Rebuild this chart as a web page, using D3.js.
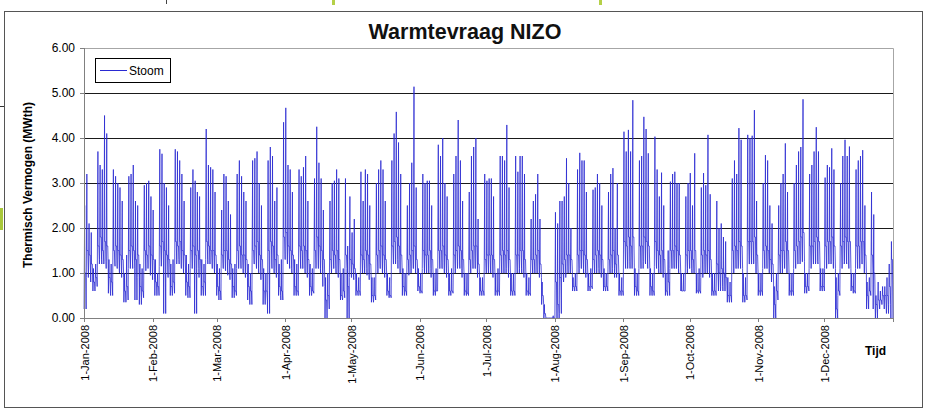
<!DOCTYPE html>
<html><head><meta charset="utf-8">
<script src="https://cdn.jsdelivr.net/npm/d3@7"></script>
<style>body{margin:0;background:#fff}svg{display:block}text{font-family:"Liberation Sans",Arial,sans-serif}</style>
</head><body><svg id="c" width="935" height="413"></svg>
<script>
// ---- data ----
const chartTitle = "Warmtevraag NIZO";
const yTitle = "Thermisch Vermogen (MWth)";
const xTitle = "Tijd";
const seriesName = "Stoom";
const yTicks = [0, 1, 2, 3, 4, 5, 6];
const monthTicks = ["2008-01-01","2008-02-01","2008-03-01","2008-04-01","2008-05-01","2008-06-01",
                    "2008-07-01","2008-08-01","2008-09-01","2008-10-01","2008-11-01","2008-12-01"];
// daily values, 1 Jan 2008 .. 31 Dec 2008 (MWth)
const dailyPeak = [
2.5,3.2,2.1,1.9,1.1,1.2,
3.7,3.4,3.3,4.5,4.1,1.3,1.2,
3.3,3.15,3.0,2.9,2.6,1.0,1.4,
3.15,3.2,3.4,2.6,2.5,1.2,1.1,
2.95,3.0,3.05,2.7,2.4,1.3,1.0,
3.75,3.65,3.0,2.9,2.5,1.2,1.3,
3.75,3.7,3.5,3.2,2.6,1.4,1.2,
2.9,3.3,3.05,2.8,2.7,1.3,1.2,
4.2,3.4,3.35,3.3,2.8,1.2,1.1,
2.4,3.2,3.15,2.6,2.3,1.1,1.2,
3.2,3.5,3.15,2.8,2.6,1.2,1.0,
3.5,3.55,3.7,3.0,2.5,1.1,1.0,
3.5,3.8,3.6,2.6,2.9,1.2,1.3,
4.35,4.67,3.4,3.3,2.8,1.3,1.2,
3.3,3.15,3.35,3.6,2.6,1.2,1.1,
3.1,4.25,3.45,3.1,2.4,0.9,1.0,
2.6,3.0,3.05,3.3,3.1,1.0,1.1,
3.1,1.6,2.7,1.9,2.2,1.0,0.9,
3.25,2.6,3.3,3.2,2.5,0.9,0.9,
3.0,3.3,3.5,3.3,2.6,1.0,0.9,
3.5,4.1,4.58,3.9,3.2,1.1,1.0,
2.5,3.0,3.45,5.14,2.9,1.1,1.0,
3.2,3.0,3.05,3.05,2.5,1.0,1.1,
3.85,3.6,4.0,3.0,2.7,1.0,1.1,
3.2,3.6,4.4,3.5,2.6,1.0,1.0,
2.8,3.6,3.8,4.0,2.2,0.9,0.9,
3.2,3.05,3.1,3.1,2.7,1.0,1.1,
3.6,3.6,3.5,4.29,2.9,1.0,1.0,
3.6,3.25,3.6,3.6,3.2,1.0,0.9,
2.2,2.6,2.75,3.2,2.2,0.8,0.3,
0.0,0.0,0.0,0.05,2.35,2.1,2.6,
2.6,2.7,3.55,3.0,2.0,0.9,1.0,
3.3,3.67,3.5,3.5,2.8,1.0,1.1,
2.85,2.9,3.2,3.0,2.5,1.1,1.0,
2.8,3.2,3.33,2.0,3.0,1.0,0.9,
4.14,3.7,4.18,3.7,4.84,1.1,1.0,
3.5,3.6,4.47,4.2,3.66,1.1,1.0,
4.03,3.3,2.7,3.23,2.5,1.0,1.5,
3.03,3.2,3.25,3.0,3.0,1.0,1.0,
2.7,3.0,3.22,2.5,3.66,1.0,1.1,
2.9,3.22,2.95,4.07,2.75,1.0,1.0,
2.6,2.0,2.1,1.8,1.7,0.9,0.8,
3.1,3.5,3.2,4.22,3.96,1.0,0.9,
4.07,4.0,4.05,4.62,2.6,1.0,1.0,
3.0,3.62,3.5,2.5,2.1,0.7,1.0,
2.5,3.0,3.2,3.88,2.8,1.0,1.0,
3.0,3.4,3.7,3.8,4.86,1.0,1.0,
3.2,3.4,3.7,4.24,3.7,1.1,1.1,
3.12,3.4,3.35,3.77,3.3,0.9,1.0,
3.0,3.6,3.96,3.6,3.81,1.0,1.0,
3.3,3.5,3.6,3.73,2.5,0.8,0.9,
2.8,2.3,0.5,0.8,0.6,0.7,0.7,
0.9,1.2,1.7];
const dailyBase = [
1.0,1.5,1.4,1.2,0.8,0.9,
1.6,1.8,1.5,1.7,1.6,0.9,0.8,
1.5,1.6,1.5,1.4,1.3,0.6,0.7,
1.5,1.6,1.5,1.3,1.4,0.7,0.6,
1.5,1.4,1.6,1.4,1.3,0.8,0.7,
1.6,1.7,1.5,1.4,1.3,0.7,0.8,
1.7,1.6,1.7,1.5,1.4,0.8,0.7,
1.5,1.6,1.4,1.5,1.3,0.7,0.8,
1.7,1.6,1.5,1.5,1.4,0.7,0.6,
1.4,1.5,1.5,1.3,1.2,0.7,0.6,
1.5,1.6,1.4,1.4,1.3,0.7,0.6,
1.5,1.6,1.7,1.4,1.3,0.6,0.6,
1.5,1.7,1.6,1.3,1.4,0.7,0.6,
1.8,1.9,1.6,1.5,1.4,0.7,0.6,
1.6,1.5,1.6,1.5,1.3,0.7,0.6,
1.5,1.8,1.6,1.5,1.3,0.4,0.5,
1.3,1.5,1.4,1.5,1.3,0.5,0.6,
1.4,0.7,1.3,1.2,1.1,0.6,0.6,
1.4,1.3,1.5,1.4,1.2,0.5,0.5,
1.4,1.5,1.6,1.4,1.3,0.6,0.5,
1.6,1.7,1.8,1.6,1.4,0.7,0.6,
1.3,1.4,1.5,1.6,1.3,0.7,0.6,
1.5,1.4,1.4,1.5,1.3,0.6,0.6,
1.5,1.5,1.6,1.4,1.3,0.6,0.6,
1.4,1.5,1.6,1.5,1.3,0.6,0.55,
1.3,1.5,1.6,1.6,1.2,0.6,0.6,
1.3,1.4,1.4,1.4,1.3,0.6,0.6,
1.4,1.5,1.4,1.5,1.3,0.6,0.6,
1.4,1.4,1.5,1.5,1.3,0.6,0.55,
1.3,1.3,1.4,1.5,1.2,0.5,0.1,
0.0,0.0,0.0,0.0,0.8,0.3,0.9,
1.2,1.3,1.4,1.4,1.3,0.7,0.7,
1.4,1.5,1.5,1.4,1.3,0.7,0.7,
1.3,1.4,1.5,1.4,1.3,0.7,0.7,
1.3,1.4,1.5,1.2,1.4,0.6,0.6,
1.7,1.6,1.8,1.6,1.8,0.7,0.6,
1.6,1.6,1.8,1.7,1.6,0.7,0.6,
1.7,1.5,1.4,1.5,1.3,0.6,0.8,
1.5,1.5,1.6,1.5,1.4,0.6,0.6,
1.4,1.5,1.5,1.3,1.5,0.6,0.6,
1.4,1.5,1.4,1.5,1.3,0.6,0.6,
1.2,1.0,1.1,1.0,0.9,0.5,0.5,
1.5,1.6,1.5,1.7,1.6,0.5,0.5,
1.7,1.7,1.7,1.8,1.4,0.6,0.6,
1.5,1.6,1.5,1.3,1.2,0.3,0.6,
1.4,1.5,1.5,1.7,1.5,0.6,0.6,
1.5,1.6,1.7,1.8,1.9,0.7,0.7,
1.6,1.6,1.7,1.8,1.7,0.7,0.7,
1.6,1.7,1.7,1.8,1.6,0.2,0.6,
1.6,1.7,1.8,1.7,1.7,0.7,0.6,
1.6,1.6,1.7,1.7,1.4,0.5,0.6,
1.4,1.0,0.3,0.4,0.4,0.5,0.5,
0.5,0.7,1.3];
const dailyLow = [
0.2,0.9,1.0,0.8,0.6,0.7,
1.2,1.3,1.2,1.25,1.1,0.55,0.5,
1.2,1.15,1.1,1.0,0.9,0.35,0.4,
1.1,1.2,1.1,0.4,0.9,0.3,0.45,
1.05,1.1,1.2,0.95,0.85,0.5,0.5,
1.15,1.2,0.1,1.0,0.9,0.5,0.55,
1.2,1.3,1.2,1.1,1.0,0.5,0.45,
1.1,1.2,0.1,1.1,0.9,0.5,0.5,
1.3,1.2,1.2,1.1,1.0,0.5,0.4,
1.1,1.1,1.05,0.95,0.85,0.45,0.5,
1.1,1.2,1.1,1.0,0.9,0.4,0.3,
1.2,1.2,1.1,1.0,0.85,0.3,0.4,
0.1,1.2,1.1,1.0,0.9,0.5,0.4,
1.3,1.3,1.2,1.1,1.0,0.5,0.5,
1.2,1.1,1.1,1.0,0.9,0.5,0.55,
1.1,1.2,1.1,1.0,0.7,0.0,0.2,
1.0,1.1,1.1,1.0,0.9,0.4,0.45,
1.1,0.0,0.9,0.9,0.85,0.5,0.5,
1.0,1.0,1.1,0.95,0.85,0.35,0.4,
1.0,1.1,1.1,1.0,0.9,0.5,0.45,
1.2,1.2,1.3,1.1,1.0,0.5,0.5,
0.95,1.0,1.1,1.1,1.0,0.6,0.55,
1.1,1.0,1.0,1.1,0.9,0.5,0.6,
1.1,1.1,1.1,1.0,0.9,0.5,0.55,
1.0,1.1,1.2,1.1,0.9,0.5,0.5,
1.0,1.1,1.1,1.1,0.9,0.5,0.5,
1.0,1.0,1.0,1.0,0.9,0.5,0.5,
1.0,1.0,1.0,1.1,0.9,0.5,0.5,
1.0,1.0,1.1,1.0,0.9,0.5,0.5,
1.0,1.0,1.0,1.0,0.9,0.3,0.0,
0.0,0.0,0.0,0.0,0.0,0.0,0.1,
0.8,0.9,1.0,1.0,1.0,0.6,0.6,
1.0,1.1,1.1,1.0,0.9,0.6,0.65,
1.0,1.0,1.1,1.0,0.9,0.6,0.6,
1.0,1.0,1.1,0.9,1.0,0.5,0.5,
1.2,1.1,1.25,1.1,1.2,0.5,0.5,
1.1,1.1,1.25,1.2,1.1,0.5,0.5,
1.15,1.1,1.0,1.0,0.9,0.5,0.5,
1.1,1.1,1.1,1.1,1.0,0.6,0.6,
1.0,1.1,1.1,1.0,1.0,0.55,0.55,
0.9,1.0,1.0,1.0,0.9,0.5,0.5,
0.8,0.6,0.7,0.6,0.6,0.35,0.35,
1.0,1.1,1.1,1.2,1.1,0.35,0.4,
1.2,1.2,1.2,1.25,1.0,0.5,0.5,
1.1,1.1,1.1,1.0,0.8,0.0,0.4,
1.0,1.0,1.1,1.2,1.0,0.5,0.5,
1.1,1.2,1.2,1.25,1.25,0.55,0.6,
1.1,1.2,1.2,1.25,1.2,0.6,0.6,
1.1,1.2,1.2,1.25,1.1,0.0,0.5,
1.1,1.2,1.25,1.2,1.1,0.6,0.55,
1.1,1.1,1.2,1.2,1.0,0.2,0.5,
1.0,0.2,0.0,0.2,0.3,0.3,0.2,
0.1,0.3,0.0];

// ---- drawing ----
const svg = d3.select("#c");
const L = 84, R = 893, T = 48, B = 318;
const x = d3.scaleTime().domain([new Date(2008,0,1), new Date(2009,0,1)]).range([L, R]);
const y = d3.scaleLinear().domain([0, 6]).range([B, T]);

svg.append("rect").attr("x",0).attr("y",0).attr("width",935).attr("height",413).attr("fill","#fff");
// stray marks from the original screenshot crop
svg.append("rect").attr("x",0).attr("y",106).attr("width",5).attr("height",1).attr("fill","#333");
svg.append("rect").attr("x",0).attr("y",208).attr("width",3).attr("height",22).attr("fill","#a9c83a");
svg.append("rect").attr("x",166).attr("y",0).attr("width",1).attr("height",4).attr("fill","#444");
svg.append("rect").attr("x",332).attr("y",0).attr("width",3).attr("height",5).attr("fill","#b5d048");
svg.append("rect").attr("x",599).attr("y",0).attr("width",3).attr("height",5).attr("fill","#b5d048");

// outer chart frame
svg.append("rect").attr("x",4.5).attr("y",11.5).attr("width",918).attr("height",396)
  .attr("fill","none").attr("stroke","#555").attr("stroke-width",1);

// title
svg.append("text").attr("x",465).attr("y",39).attr("text-anchor","middle")
  .attr("font-size",21.5).attr("font-weight","bold").attr("fill","#111").text(chartTitle);

// plot frame (top / right light grey)
svg.append("path").attr("d",`M${L},${T+0.5}H${R+0.5}V${B}`).attr("fill","none").attr("stroke","#a6a6a6");

// horizontal gridlines
const gridVals = yTicks.filter(v => v > 0 && v < 6);
svg.append("g").attr("transform",`translate(${L},0)`)
  .call(d3.axisLeft(y).tickValues(gridVals).tickSize(-(R-L)).tickFormat(""))
  .call(g => g.select(".domain").remove())
  .call(g => g.selectAll("line").attr("stroke","#1a1a1a").attr("shape-rendering","crispEdges"));

// series
const pts = [];
dailyPeak.forEach((p, i) => {
  const t = h => new Date(2008, 0, 1 + i, h);
  pts.push([t(1), dailyLow[i]], [t(7), p], [t(9), dailyBase[i]], [t(18), dailyBase[i]], [t(23), dailyLow[i]]);
});
const line = d3.line().x(d => x(d[0])).y(d => y(d[1]));
svg.append("path").datum(pts).attr("d", line).attr("fill","none")
  .attr("stroke","#2a2ad2").attr("stroke-width",0.8).attr("stroke-linejoin","miter");

// y axis
const yAx = svg.append("g").attr("transform",`translate(${L},0)`)
  .call(d3.axisLeft(y).tickValues(yTicks).tickSize(4).tickPadding(5).tickFormat(d3.format(".2f")));
yAx.select(".domain").attr("stroke","#808080").attr("shape-rendering","crispEdges");
yAx.selectAll("line").attr("stroke","#808080").attr("shape-rendering","crispEdges");
yAx.selectAll("text").attr("font-size",12).attr("fill","#000").attr("font-family","Liberation Sans, Arial, sans-serif");

// x axis
const tickDates = monthTicks.map(s => d3.timeParse("%Y-%m-%d")(s));
const xAx = svg.append("g").attr("transform",`translate(0,${B})`)
  .call(d3.axisBottom(x).tickValues(tickDates).tickSize(4).tickFormat(d3.timeFormat("%-d-%b-%Y")));
xAx.select(".domain").attr("stroke","#808080").attr("shape-rendering","crispEdges");
xAx.selectAll("line").attr("stroke","#808080").attr("shape-rendering","crispEdges");
xAx.selectAll("text").attr("font-size",11).attr("fill","#000")
  .attr("font-family","Liberation Sans, Arial, sans-serif")
  .attr("text-anchor","end").attr("dy",null).attr("y",0)
  .attr("transform","translate(4,7) rotate(-90)");

// axis titles
svg.append("text").attr("transform","translate(32,185) rotate(-90)").attr("text-anchor","middle")
  .attr("font-size",12).attr("font-weight","bold").text(yTitle);
svg.append("text").attr("x",865).attr("y",355).attr("font-size",12).attr("font-weight","bold").text(xTitle);

// legend
const lg = svg.append("g");
lg.append("rect").attr("x",95.5).attr("y",58.5).attr("width",75).attr("height",24)
  .attr("fill","#fff").attr("stroke","#000");
lg.append("line").attr("x1",100).attr("x2",127).attr("y1",70.5).attr("y2",70.5).attr("stroke","#2a2ad2");
lg.append("text").attr("x",129).attr("y",75).attr("font-size",12).text(seriesName);
</script></body></html>
